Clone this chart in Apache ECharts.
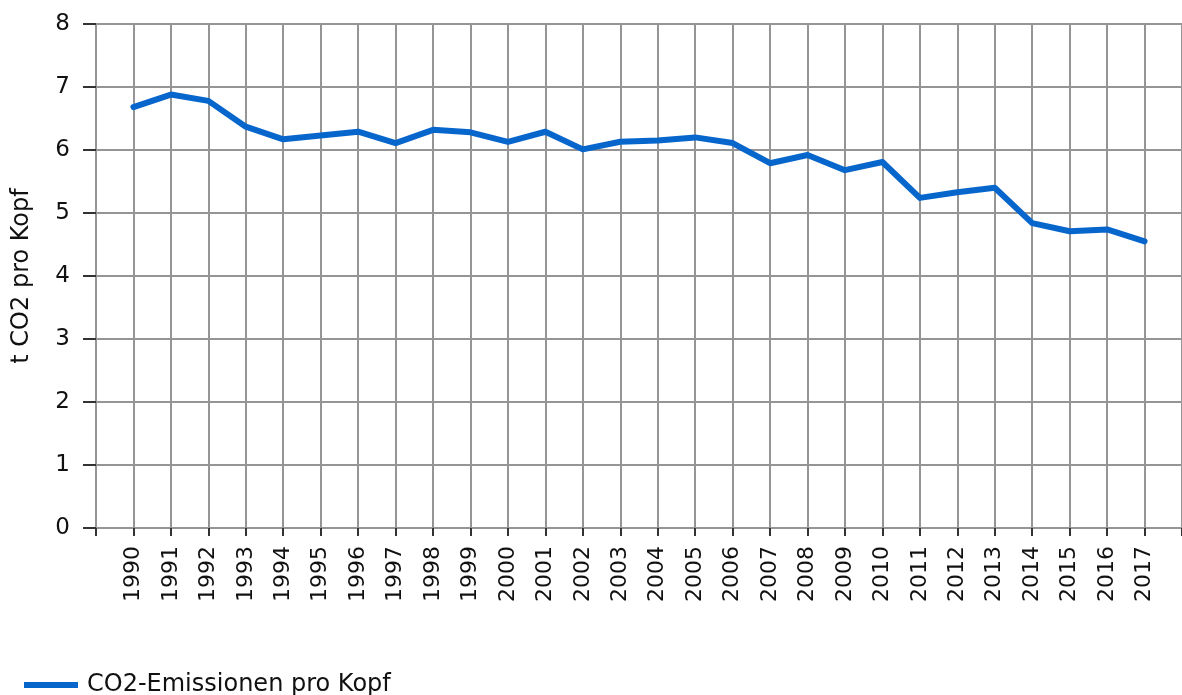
<!DOCTYPE html>
<html>
<head>
<meta charset="utf-8">
<script src="https://cdn.jsdelivr.net/npm/echarts@6/dist/echarts.min.js"></script>
<style>
html,body{margin:0;padding:0;background:#fff;}
#chart{width:1182px;height:695px;}
</style>
</head>
<body>
<div id="chart"></div>
<script>
var years = [1990,1991,1992,1993,1994,1995,1996,1997,1998,1999,2000,2001,2002,2003,
    2004,2005,2006,2007,2008,2009,2010,2011,2012,2013,2014,2015,2016,2017];
var values = [6.68,6.88,6.78,6.37,6.17,6.23,6.29,6.11,6.32,6.28,6.13,6.29,6.01,6.13,
    6.15,6.20,6.11,5.79,5.92,5.68,5.81,5.24,5.33,5.40,4.84,4.71,4.74,4.55];
var seriesName = 'CO2-Emissionen pro Kopf';
var yName = 't CO2 pro Kopf';

var font = 'DejaVu Sans';
var gridColor = '#959595';

var chart = echarts.init(document.getElementById('chart'));
var option = {
    animation:false,
    textStyle:{fontFamily:font},
    grid:{
        left:96,
        right:-5,
        top:24,
        bottom:167
    },
    legend:{
        left:19,
        top:668,
        icon:'rect',
        itemWidth:54,
        itemHeight:6,
        textStyle:{
            fontFamily:font,
            fontSize:24,
            color:'#111',
            padding:[0,0,0,4]
        },
        data:[seriesName]
    },
    xAxis:{
        type:'value',
        min:1989,
        max:2018,
        interval:1,
        axisLine:{lineStyle:{color:gridColor,width:2}},
        axisTick:{length:8,lineStyle:{color:'#333',width:2}},
        splitLine:{show:true,lineStyle:{color:gridColor,width:2}},
        axisLabel:{
            rotate:90,
            margin:18,
            fontFamily:font,
            fontSize:22,
            color:'#111',
            formatter:function(v){
                return (v < years[0] || v > years[years.length-1]) ? '' : String(v);
            }
        }
    },
    yAxis:{
        type:'value',
        min:0,
        max:8,
        interval:1,
        name:yName,
        nameLocation:'middle',
        nameGap:62,
        nameTextStyle:{fontFamily:font,fontSize:24,color:'#111'},
        axisLine:{show:true,lineStyle:{color:gridColor,width:2}},
        axisTick:{show:true,length:13,lineStyle:{color:'#333',width:2}},
        splitLine:{show:true,lineStyle:{color:gridColor,width:2}},
        axisLabel:{
            margin:26,
            fontFamily:font,
            fontSize:23,
            color:'#111'
        }
    },
    series:[{
        name:seriesName,
        type:'line',
        showSymbol:false,
        symbol:'none',
        color:'#0766cc',
        lineStyle:{width:6,color:'#0766cc',join:'round',cap:'round'},
        data:years.map(function(y,i){return [y,values[i]];})
    }]
};
chart.setOption(option);
</script>
</body>
</html>
